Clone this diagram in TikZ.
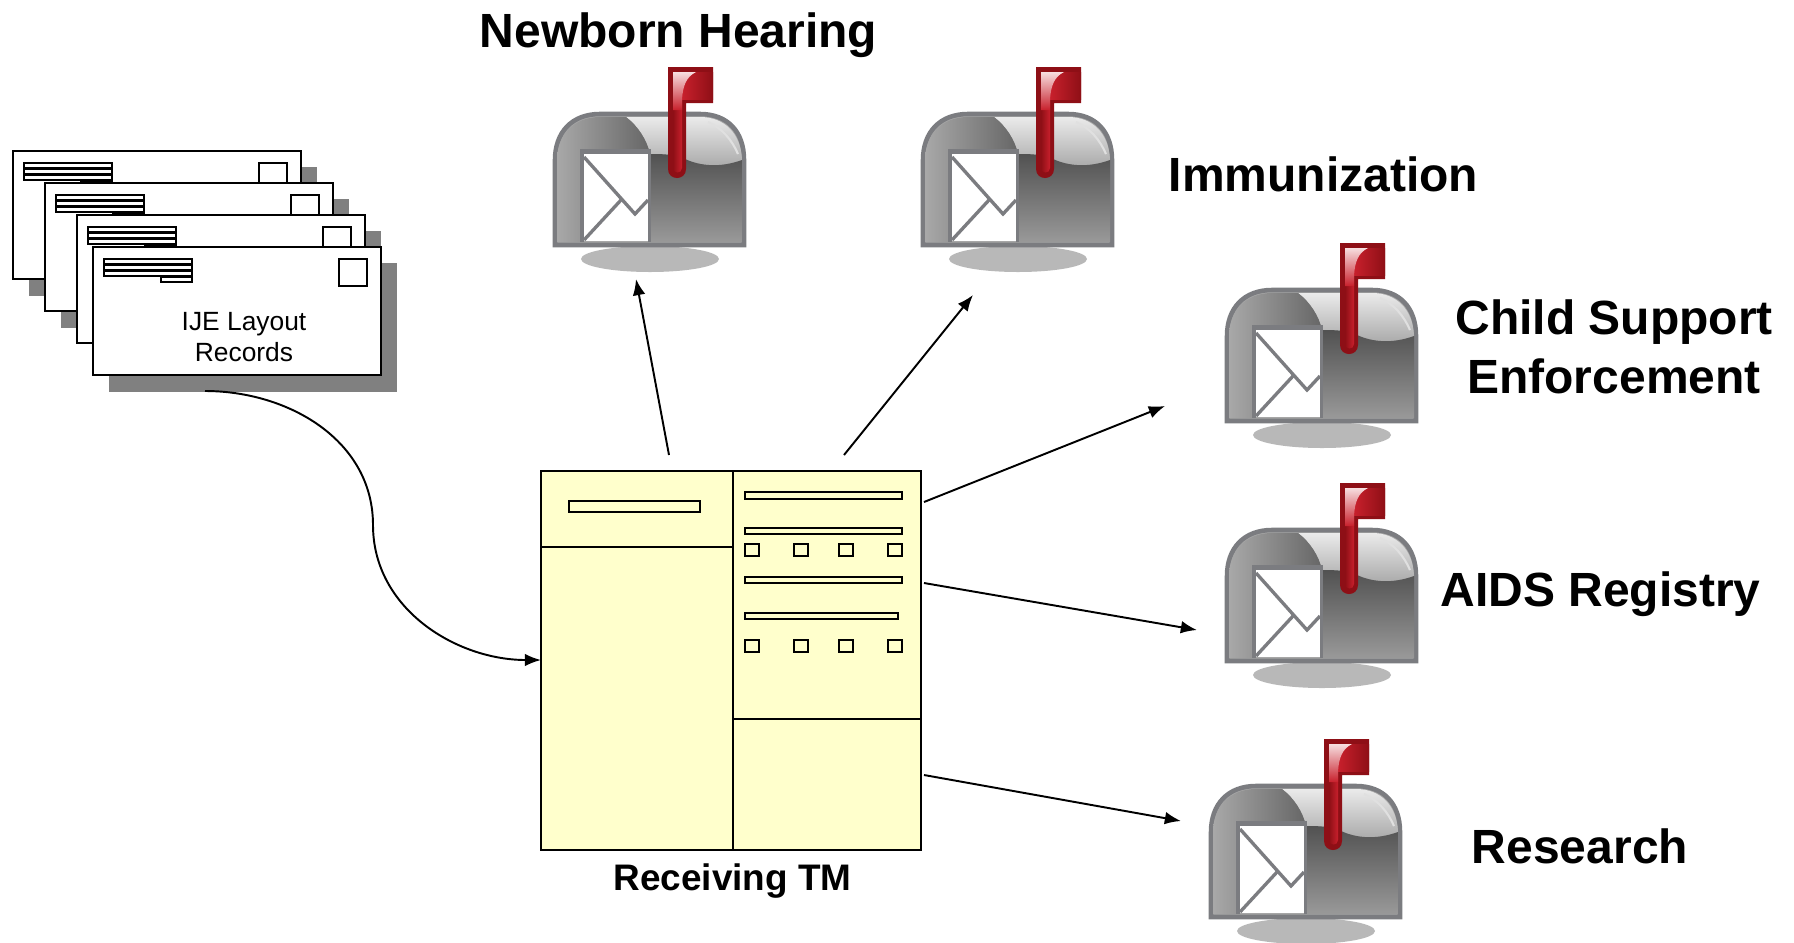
\documentclass[tikz,border=0pt]{standalone}
\usepackage{fontspec}
\setmainfont{Liberation Sans}
\usetikzlibrary{arrows.meta}
\definecolor{boxgray}{HTML}{7B7C80}
\definecolor{tmyellow}{HTML}{FFFFCC}
\definecolor{flagred}{HTML}{C8202C}
\definecolor{flagdark}{HTML}{8E0F16}
\tikzset{
	heading/.style={font=\fontsize{13.65}{16.5}\selectfont\bfseries, align=center, inner sep=0pt},
	envelope/.style={draw, line width=0.55pt, fill=white, minimum width=2.88cm, minimum height=1.28cm, inner sep=0pt, align=center},
	tmbox/.style={draw, line width=0.6pt, fill=tmyellow, minimum width=3.8cm, minimum height=3.79cm, inner sep=0pt},
	formbar/.style={draw, line width=0.55pt},
	mailbox/.pic={
		% shadow
		\fill[black!28] (120,209) ellipse (69 and 13);
		% body
		\path[draw=boxgray, line width=1.3pt, fill=gray!70] (25,195) -- (25,110) .. controls (25,82) and (42,64) .. (70,64) -- (170,64) .. controls (198,64) and (214,82) .. (214,110) -- (214,195) -- cycle;
		% lid
		\shade[top color=white!92!black, bottom color=black!34] (96,67) -- (170,67) .. controls (195,67) and (211,84) .. (212,110) .. controls (190,118) and (170,116) .. (155,109) .. controls (145,104) and (130,104) .. (120,104) .. controls (117,90) and (108,76) .. (96,67) -- cycle;
		\draw[white!88!black, line width=0.6pt] (178,72) .. controls (192,78) and (202,90) .. (208,104);
		% front
		\shade[top color=black!68, bottom color=black!40] (120,104) .. controls (130,104) and (145,104) .. (155,109) .. controls (170,116) and (190,118) .. (212,110) -- (212,192) -- (120,192) -- cycle;
		% door frame
		\shade[left color=black!34, right color=black!60] (27,192) -- (27,110) .. controls (27,85) and (44,67) .. (70,67) -- (96,67) .. controls (108,76) and (117,90) .. (120,104) -- (120,100) -- (52,100) -- (52,192) -- cycle;
		\fill[boxgray] (50,99) rectangle (54,192);
		\fill[boxgray] (50,99) rectangle (120,104);
		\fill[boxgray] (118,99) rectangle (121,192);
		% letter
		\fill[white] (54,104) rectangle (118,191);
		\draw[boxgray, line width=0.95pt] (54,107) -- (105,164) -- (118,150);
		\draw[boxgray, line width=0.95pt] (54,190) -- (91,150);
		% flag
		\fill[flagdark] (138,17) -- (183,17) -- (183,53) -- (156,53) -- (156,119) .. controls (156,131) and (138,131) .. (138,119) -- cycle;
		\shade[left color=flagred, right color=flagdark] (152,22) rectangle (183,49);
		\shade[left color=flagdark, right color=flagred] (143,40) -- (152,40) -- (152,118) .. controls (152,124) and (143,124) .. (143,118) -- cycle;
		\shade[top color=white!85!flagred, bottom color=flagred] (143,22) -- (166,22) .. controls (156,27) and (153,36) .. (152,49) -- (152,60) -- (143,60) -- cycle;
	},
}
\begin{document}
\begin{tikzpicture}[x=0.01cm, y=-0.01cm, >={Latex[length=4.6pt,width=3.6pt]}]
	\useasboundingbox (0,0) rectangle (1794,942);

	% envelopes
	\foreach \n/\ex/\ey in {1/13/151, 2/45/183, 3/77/215, 4/93/247} {
		\fill[black!50] (\ex+16,\ey+16) rectangle (\ex+304,\ey+145);
		\node[envelope] (env\n) at (\ex+144,\ey+64) {};
		\foreach \by in {12,18,24}
			\draw[formbar] (\ex+11,\ey+\by) rectangle (\ex+99,\ey+\by+5);
		\draw[formbar] (\ex+68,\ey+30) rectangle (\ex+99,\ey+35);
		\draw[formbar] (\ex+246,\ey+12) rectangle (\ex+274,\ey+39);
	}
	\node[font=\fontsize{7.5}{9}\selectfont, align=center, inner sep=0pt] (ije) at (244,337) {IJE Layout\\Records};

	% receiving form
	\node[tmbox] (tm) at (731,660.5) {};
	\draw[line width=0.6pt] (733,471) -- (733,850);
	\draw[line width=0.55pt] (541,547) -- (733,547);
	\draw[line width=0.55pt] (733,719) -- (921,719);
	\draw[formbar] (569,501) rectangle (700,512);
	\draw[formbar] (745,492) rectangle (902,499);
	\draw[formbar] (745,528) rectangle (902,534);
	\draw[formbar] (745,577) rectangle (902,583);
	\draw[formbar] (745,613) rectangle (898,619);
	\foreach \sx in {745,794,839,888} {
		\draw[formbar] (\sx,544) rectangle (\sx+14,556);
		\draw[formbar] (\sx,640) rectangle (\sx+14,652);
	}
	\node[heading, font=\fontsize{10.5}{12}\selectfont\bfseries] (tmlabel) at (732.5,881) {Receiving TM};

	% mailboxes
	\pic (nbbox) at (530,50) {mailbox};
	\pic (imbox) at (898,50) {mailbox};
	\pic (csbox) at (1202,226) {mailbox};
	\pic (aibox) at (1202,466) {mailbox};
	\pic (rebox) at (1186,722) {mailbox};

	\node[heading] (nblabel) at (678.5,35.5) {Newborn Hearing};
	\node[heading] (imlabel) at (1323.5,174) {Immunization};
	\node[heading] (cslabel) at (1614,347) {Child Support\\[0.35pt]Enforcement};
	\node[heading] (ailabel) at (1600.5,594.5) {AIDS Registry};
	\node[heading] (relabel) at (1580,846) {Research};

	% connector ends
	\coordinate (envout) at (205,391);
	\coordinate (bend) at (373,525);
	\coordinate (tmin) at (541,660);
	\coordinate (nbout) at (669,455);
	\coordinate (nbin) at (636,279);
	\coordinate (imout) at (844,455);
	\coordinate (imin) at (973,295);
	\coordinate (csout) at (924,502);
	\coordinate (csin) at (1165,406);
	\coordinate (aiout) at (924,583);
	\coordinate (aiin) at (1197,630);
	\coordinate (reout) at (924,775);
	\coordinate (rein) at (1181,821);

	\draw[line width=0.55pt] (envout) to[out=0, in=90, looseness=1] (bend);
	\draw[->, line width=0.55pt] (bend) to[out=-90, in=180, looseness=1] (tmin);
	\path[->, line width=0.55pt] (nbout) edge (nbin);
	\path[->, line width=0.55pt] (imout) edge (imin);
	\path[->, line width=0.55pt] (csout) edge (csin);
	\path[->, line width=0.55pt] (aiout) edge (aiin);
	\path[->, line width=0.55pt] (reout) edge (rein);
\end{tikzpicture}
\end{document}
